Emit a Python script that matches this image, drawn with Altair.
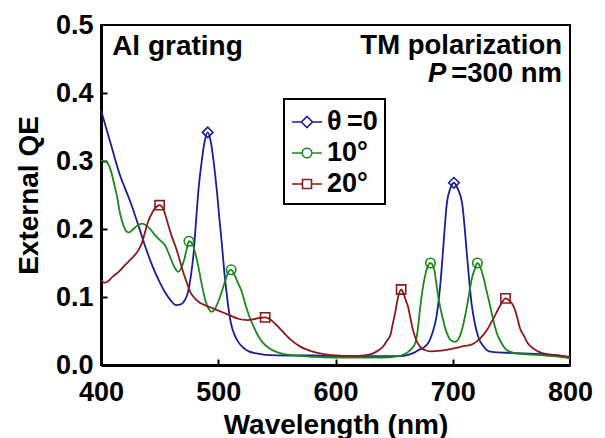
import altair as alt
import pandas as pd

series = ["θ\u2009=0", "10°", "20°"]
colors = ["#1c1c9c", "#1a8a1a", "#8b1a1a"]

wl_0 = [400, 405, 410, 416, 420, 425, 431, 437, 444, 450, 455, 460, 464, 468, 471, 474, 477, 479, 481, 483,
        486, 488, 491, 494, 496, 499, 501, 503, 505, 507, 509, 511, 514, 517, 521, 526, 533, 540, 560, 580,
        600, 620, 640, 655, 662, 668, 672, 675, 680, 683, 686, 688, 690, 692, 695, 698, 701, 704, 708, 710,
        712, 714, 716, 719, 722, 726, 731, 735, 745, 760, 775, 790, 800]
qe_0 = [0.375, 0.345, 0.315, 0.280, 0.262, 0.240, 0.210, 0.178, 0.145, 0.122, 0.106, 0.094, 0.088, 0.089, 0.094, 0.106, 0.135, 0.165, 0.210, 0.255,
        0.301, 0.325, 0.342, 0.325, 0.300, 0.253, 0.215, 0.180, 0.140, 0.108, 0.080, 0.060, 0.044, 0.034, 0.026, 0.020, 0.017, 0.015, 0.014, 0.014,
        0.013, 0.013, 0.013, 0.013, 0.015, 0.019, 0.023, 0.025, 0.035, 0.049, 0.070, 0.095, 0.130, 0.175, 0.238, 0.260, 0.268, 0.260, 0.238, 0.205,
        0.164, 0.125, 0.091, 0.060, 0.040, 0.028, 0.020, 0.019, 0.018, 0.017, 0.016, 0.014, 0.010]

wl_10 = [400, 405, 408, 411, 414, 416, 419, 422, 424, 427, 431, 435, 438, 442, 446, 450, 455, 458, 461, 464,
         466, 468, 471, 473, 475, 478, 480, 483, 486, 489, 492, 494, 497, 500, 503, 506, 509, 511, 514, 517,
         520, 523, 526, 530, 534, 538, 544, 550, 556, 565, 580, 600, 620, 640, 650, 656, 661, 665, 668, 670,
         672, 674, 676, 678, 681, 684, 686, 688, 691, 694, 698, 702, 706, 709, 712, 714, 716, 719, 721, 724,
         726, 729, 732, 735, 738, 742, 746, 752, 760, 772, 785, 800]
qe_10 = [0.301, 0.298, 0.288, 0.268, 0.245, 0.225, 0.206, 0.196, 0.195, 0.199, 0.205, 0.208, 0.206, 0.200, 0.191, 0.184, 0.175, 0.163, 0.150, 0.140,
         0.137, 0.141, 0.155, 0.170, 0.182, 0.178, 0.167, 0.145, 0.118, 0.095, 0.082, 0.078, 0.082, 0.093, 0.108, 0.124, 0.138, 0.140, 0.132, 0.120,
         0.108, 0.090, 0.074, 0.057, 0.043, 0.033, 0.024, 0.019, 0.016, 0.014, 0.012, 0.011, 0.011, 0.011, 0.012, 0.014, 0.018, 0.024, 0.032, 0.050,
         0.081, 0.108, 0.128, 0.142, 0.150, 0.142, 0.120, 0.097, 0.072, 0.052, 0.037, 0.034, 0.042, 0.060, 0.085, 0.105, 0.125, 0.142, 0.150, 0.142,
         0.130, 0.108, 0.086, 0.063, 0.045, 0.031, 0.022, 0.018, 0.016, 0.015, 0.013, 0.010]

wl_20 = [400, 403, 405, 410, 415, 420, 424, 428, 432, 435, 437, 440, 444, 447, 450, 453, 457, 460, 464, 467,
         470, 473, 476, 480, 484, 490, 496, 503, 510, 517, 525, 532, 540, 545, 549, 555, 562, 570, 580, 590,
         600, 615, 625, 632, 637, 641, 644, 647, 649, 651, 653, 656, 658, 660, 662, 664, 666, 669, 672, 676,
         681, 690, 700, 710, 716, 720, 725, 729, 733, 737, 741, 745, 748, 752, 755, 757, 761, 764, 769, 774,
         780, 790, 800]
qe_20 = [0.125, 0.121, 0.122, 0.130, 0.137, 0.146, 0.153, 0.160, 0.169, 0.180, 0.192, 0.210, 0.225, 0.232, 0.235, 0.230, 0.208, 0.191, 0.172, 0.155,
         0.137, 0.122, 0.108, 0.098, 0.092, 0.087, 0.083, 0.078, 0.073, 0.068, 0.066, 0.068, 0.070, 0.066, 0.060, 0.049, 0.037, 0.027, 0.020, 0.016,
         0.014, 0.013, 0.014, 0.017, 0.022, 0.028, 0.036, 0.045, 0.062, 0.078, 0.097, 0.111, 0.105, 0.095, 0.085, 0.068, 0.052, 0.036, 0.027, 0.022,
         0.020, 0.021, 0.024, 0.028, 0.030, 0.034, 0.042, 0.051, 0.063, 0.076, 0.089, 0.098, 0.095, 0.086, 0.070, 0.056, 0.042, 0.032, 0.024, 0.019,
         0.016, 0.014, 0.012]

mk_wl_0 = [491, 701]
mk_qe_0 = [0.342, 0.268]
mk_wl_10 = [475, 511, 681, 721]
mk_qe_10 = [0.182, 0.140, 0.150, 0.150]
mk_wl_20 = [450, 540, 656, 745]
mk_qe_20 = [0.235, 0.070, 0.111, 0.098]

x_ticks = [400, 500, 600, 700, 800]
y_ticks = [0.0, 0.1, 0.2, 0.3, 0.4, 0.5]

curves = pd.concat([
    pd.DataFrame({"series": series[0], "wl": wl_0, "qe": qe_0}),
    pd.DataFrame({"series": series[1], "wl": wl_10, "qe": qe_10}),
    pd.DataFrame({"series": series[2], "wl": wl_20, "qe": qe_20}),
])
marks = pd.concat([
    pd.DataFrame({"series": series[0], "wl": mk_wl_0, "qe": mk_qe_0}),
    pd.DataFrame({"series": series[1], "wl": mk_wl_10, "qe": mk_qe_10}),
    pd.DataFrame({"series": series[2], "wl": mk_wl_20, "qe": mk_qe_20}),
])

FONT = "Liberation Sans"
xs = alt.Scale(domain=[400, 800], nice=False, zero=False)
ys = alt.Scale(domain=[0, 0.5], nice=False, zero=False)
cs = alt.Scale(domain=series, range=colors)

p_diamond = "M-1,0H-0.37M0.37,0H1M0,-0.37L0.37,0L0,0.37L-0.37,0Z"
p_circle = "M-1,0H-0.32M0.32,0H1M-0.32,0A0.32,0.32,0,1,1,0.32,0A0.32,0.32,0,1,1,-0.32,0Z"
p_square = "M-1,0H-0.3M0.3,0H1M-0.3,-0.3H0.3V0.3H-0.3Z"

legend_layer = alt.Chart(marks).mark_point(opacity=0, filled=False, strokeWidth=1.6).encode(
    x=alt.X("wl:Q", scale=xs, axis=None),
    y=alt.Y("qe:Q", scale=ys, axis=None),
    color=alt.Color("series:N", scale=cs, legend=alt.Legend(
        title=None, orient="none", legendX=183, legendY=74, direction="vertical",
        labelFont=FONT, labelFontSize=27, labelFontWeight="bold", labelColor="black",
        symbolSize=900, symbolStrokeWidth=1.6, symbolOpacity=1, symbolFillColor="white",
        strokeColor="black", fillColor="white", padding=7, rowPadding=2, labelOffset=4)),
    shape=alt.Shape("series:N", scale=alt.Scale(domain=series, range=[p_diamond, p_circle, p_square]),
                    legend=alt.Legend(title=None, orient="none", legendX=183, legendY=74)),
)

lines = alt.Chart(curves).mark_line(strokeWidth=1.8, interpolate="monotone").encode(
    x=alt.X("wl:Q", scale=xs, axis=alt.Axis(
        orient="bottom", values=x_ticks, format="d", title="Wavelength (nm)", grid=False,
        ticks=False, tickSize=0, domainColor="black", domainWidth=3, labelFlush=False,
        labelFont=FONT, labelFontSize=27, labelFontWeight="bold", labelColor="black", labelPadding=14,
        titleFont=FONT, titleFontSize=28, titleFontWeight="bold", titleColor="black", titlePadding=6)),
    y=alt.Y("qe:Q", scale=ys, axis=alt.Axis(
        orient="left", values=y_ticks, format=".1f", title="External QE", grid=False,
        ticks=False, tickSize=0, domainColor="black", domainWidth=3, labelFlush=False,
        labelFont=FONT, labelFontSize=27, labelFontWeight="bold", labelColor="black", labelPadding=8,
        titleFont=FONT, titleFontSize=28, titleFontWeight="bold", titleColor="black", titlePadding=12)),
    color=alt.Color("series:N", scale=cs),
    detail="series:N",
)

shapes = ["diamond", "circle", "square"]
sizes = [110, 90, 85]
marker_layers = []
for i, name in enumerate(series):
    enc = dict(
        x=alt.X("wl:Q", scale=xs, axis=None),
        y=alt.Y("qe:Q", scale=ys, axis=None),
    )
    if i == 0:
        enc = dict(
            x=alt.X("wl:Q", scale=xs, axis=alt.Axis(
                orient="bottom", offset=-6, values=[500, 600, 700], domain=False, labels=False,
                title=None, grid=False, ticks=True, tickSize=6, tickWidth=2, tickColor="black")),
            y=alt.Y("qe:Q", scale=ys, axis=alt.Axis(
                orient="left", offset=-6, values=[0.1, 0.2, 0.3, 0.4], domain=False, labels=False,
                title=None, grid=False, ticks=True, tickSize=6, tickWidth=2, tickColor="black")),
        )
    marker_layers.append(
        alt.Chart(marks).transform_filter(alt.datum.series == name).mark_point(
            shape=shapes[i], size=sizes[i], filled=False, color=colors[i], strokeWidth=1.6, opacity=1
        ).encode(**enc)
    )


def label(text, x, y, align, size=28, italic=False):
    return alt.Chart().mark_text(
        text=text, align=align, baseline="alphabetic", font=FONT, fontSize=size,
        fontWeight="bold", fontStyle="italic" if italic else "normal", color="black"
    ).encode(x=alt.XDatum(x, axis=None, scale=xs), y=alt.YDatum(y, axis=None, scale=ys))


texts = [
    label("Al grating", 409.5, 0.456, "left"),
    label("TM polarization", 793.2, 0.457, "right", size=27.5),
    label("=300 nm", 793.2, 0.4155, "right", size=27.5),
    label("P", 694.5, 0.4155, "right", size=27.5, italic=True),
]

chart = alt.layer(legend_layer, lines, *marker_layers, *texts).resolve_axis(
    x="independent", y="independent"
).properties(
    width=469, height=340,
    padding={"left": 93, "top": 17, "right": 27, "bottom": 73},
    autosize="none",
).configure_view(stroke="black", strokeWidth=2).configure_legend(strokeWidth=2)

chart.save("out.html", embed_options={"renderer": "svg", "actions": False})
